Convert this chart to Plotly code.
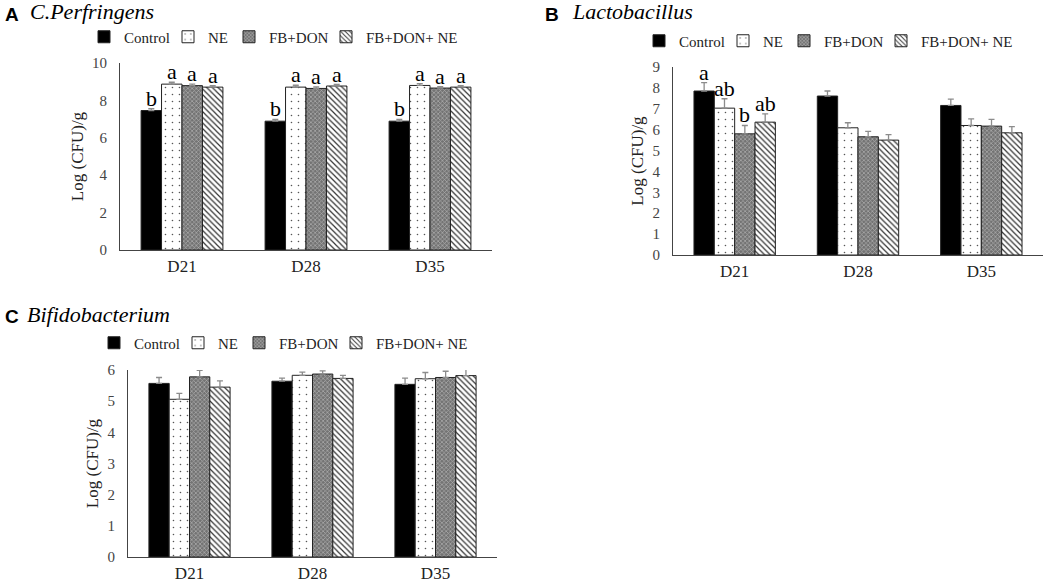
import plotly.graph_objects as go

days = ["D21", "D28", "D35"]
groups = ["Control", "NE", "FB+DON", "FB+DON+ NE"]

# C. perfringens, log CFU/g
perf_vals = {
    "Control": [7.46, 6.89, 6.89],
    "NE": [8.87, 8.71, 8.80],
    "FB+DON": [8.79, 8.64, 8.66],
    "FB+DON+ NE": [8.71, 8.77, 8.71],
}
perf_err = {
    "Control": [0.1, 0.1, 0.1],
    "NE": [0.1, 0.1, 0.1],
    "FB+DON": [0.08, 0.08, 0.08],
    "FB+DON+ NE": [0.08, 0.08, 0.08],
}
perf_letters = {
    "Control": ["b", "b", "b"],
    "NE": ["a", "a", "a"],
    "FB+DON": ["a", "a", "a"],
    "FB+DON+ NE": ["a", "a", "a"],
}

# Lactobacillus
lact_vals = {
    "Control": [7.85, 7.61, 7.16],
    "NE": [7.03, 6.09, 6.20],
    "FB+DON": [5.80, 5.66, 6.17],
    "FB+DON+ NE": [6.36, 5.50, 5.85],
}
lact_err = {
    "Control": [0.40, 0.24, 0.30],
    "NE": [0.45, 0.24, 0.32],
    "FB+DON": [0.40, 0.26, 0.32],
    "FB+DON+ NE": [0.40, 0.26, 0.30],
}
lact_letters = {
    "Control": ["a", "", ""],
    "NE": ["ab", "", ""],
    "FB+DON": ["b", "", ""],
    "FB+DON+ NE": ["ab", "", ""],
}

# Bifidobacterium
bifi_vals = {
    "Control": [5.57, 5.64, 5.54],
    "NE": [5.06, 5.83, 5.72],
    "FB+DON": [5.78, 5.87, 5.76],
    "FB+DON+ NE": [5.45, 5.73, 5.82],
}
bifi_err = {
    "Control": [0.19, 0.10, 0.20],
    "NE": [0.19, 0.10, 0.20],
    "FB+DON": [0.21, 0.10, 0.20],
    "FB+DON+ NE": [0.20, 0.10, 0.20],
}

SERIF = "Liberation Serif, Times New Roman, serif"
SANS = "Liberation Sans, Arial, sans-serif"
BARGAP = 0.34

styles = {
    "Control": dict(color="black", pattern=dict(shape="")),
    "NE": dict(color="white", pattern=dict(shape=".", bgcolor="white", fgcolor="#555",
                                             size=7, solidity=0.04)),
    "FB+DON": dict(color="#737373", pattern=dict(shape="x", bgcolor="#737373", fgcolor="#b0b0b0",
                                                 size=3, solidity=0.4)),
    "FB+DON+ NE": dict(color="white", pattern=dict(shape="\\", bgcolor="white", fgcolor="#333",
                                                   size=4, solidity=0.3)),
}
# tighter legend spacing than plotly's default (px)
legend_w = {"Control": 39, "NE": 16, "FB+DON": 52, "FB+DON+ NE": 95}

fig = go.Figure()

panels = [
    # values, errors, letters, xaxis, yaxis, legend
    (perf_vals, perf_err, perf_letters, "x", "y", "legend"),
    (lact_vals, lact_err, lact_letters, "x2", "y2", "legend2"),
    (bifi_vals, bifi_err, None, "x3", "y3", "legend3"),
]

annotations = []
for vals, errs, letters, xa, ya, lg in panels:
    for i, g in enumerate(groups):
        st = styles[g]
        fig.add_trace(go.Bar(
            x=days, y=vals[g], name=g, xaxis=xa, yaxis=ya, legend=lg,
            legendwidth=legend_w[g],
            marker=dict(color=st["color"], pattern=st["pattern"],
                        line=dict(color="#222", width=1)),
            error_y=dict(type="data", array=errs[g], arrayminus=[0] * len(days),
                         symmetric=False, color="#8c8c8c", thickness=1.3, width=3),
        ))
        if letters:
            w = (1 - BARGAP) / len(groups)
            off = (i - (len(groups) - 1) / 2) * w
            for j, lab in enumerate(letters[g]):
                if lab:
                    annotations.append(dict(
                        x=j + off, y=vals[g][j] + errs[g][j], xref=xa, yref=ya,
                        text=lab, showarrow=False, yanchor="bottom", yshift=-4,
                        font=dict(family=SERIF, size=22, color="black")))

W, H = 1045, 586
def dx(a, b):
    return [a / W, b / W]
def dy(top, bottom):
    return [1 - bottom / H, 1 - top / H]

xcommon = dict(showline=True, linecolor="#444", linewidth=1, showgrid=False, automargin=False,
               zeroline=False, ticks="outside", ticklen=1, tickcolor="rgba(0,0,0,0)",
               tickfont=dict(family=SERIF, size=17, color="#222"))
ycommon = dict(showline=True, linecolor="#444", linewidth=1, showgrid=False, automargin=False,
               zeroline=False, ticks="", ticklabelstandoff=9,
               tickfont=dict(family=SERIF, size=15, color="#444"))
yt = dict(text="Log (CFU)/g", standoff=4, font=dict(family=SERIF, size=17, color="#222"))
leg = dict(orientation="h", xanchor="left", yanchor="middle", itemwidth=30,
           font=dict(family=SERIF, size=15, color="#222"), bgcolor="rgba(0,0,0,0)")

fig.update_layout(
    template="none",
    width=W, height=H, margin=dict(l=0, r=0, t=0, b=0, autoexpand=False),
    paper_bgcolor="white", plot_bgcolor="white",
    barmode="group", bargap=BARGAP, bargroupgap=0,
    font=dict(family=SERIF, color="#222"),
    xaxis=dict(domain=dx(120, 492), anchor="y", **xcommon),
    yaxis=dict(domain=dy(63, 250), anchor="x", range=[0, 10], dtick=2, title=yt, **ycommon),
    xaxis2=dict(domain=dx(673, 1043), anchor="y2", **xcommon),
    yaxis2=dict(domain=dy(67, 255), anchor="x2", range=[0, 9], dtick=1, title=yt, **ycommon),
    xaxis3=dict(domain=dx(128, 497), anchor="y3", **xcommon),
    yaxis3=dict(domain=dy(370, 557), anchor="x3", range=[0, 6], dtick=1, title=yt, **ycommon),
    legend=dict(x=84 / W, y=1 - 37 / H, **leg),
    legend2=dict(x=639 / W, y=1 - 41 / H, **leg),
    legend3=dict(x=94 / W, y=1 - 343 / H, **leg),
    showlegend=True,
)

# panel labels and titles
for letter, title, x0, y0, tx in [("A", "C.Perfringens", 3, 14, 28),
                                   ("B", "Lactobacillus", 543, 14, 570),
                                   ("C", "Bifidobacterium", 3, 316, 25)]:
    annotations.append(dict(x=x0 / W, y=1 - y0 / H, xref="paper", yref="paper",
                            text="<b>" + letter + "</b>", showarrow=False,
                            xanchor="left", yanchor="middle",
                            font=dict(family=SANS, size=19, color="black")))
    annotations.append(dict(x=tx / W, y=1 - (y0 - 2) / H, xref="paper", yref="paper",
                            text="<i>" + title + "</i>", showarrow=False,
                            xanchor="left", yanchor="middle",
                            font=dict(family=SERIF, size=22, color="black")))

fig.update_layout(annotations=annotations)
# drop the page's default body margin so the figure sits at the window origin
fig.write_html("out.html", config={"displayModeBar": False},
               post_script="document.body.style.margin='0';")
